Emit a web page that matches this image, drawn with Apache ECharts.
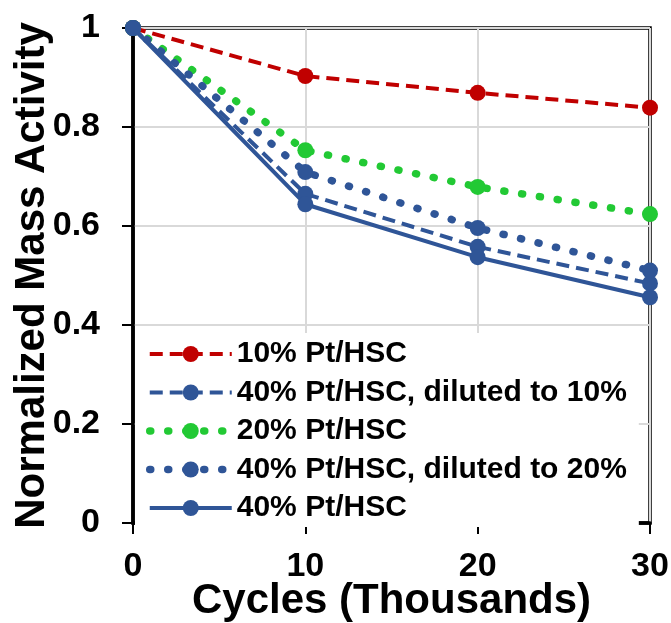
<!DOCTYPE html>
<html>
<head>
<meta charset="utf-8">
<script src="https://cdn.jsdelivr.net/npm/echarts@6/dist/echarts.min.js"></script>
<style>
  html, body { margin: 0; padding: 0; background: #fff; }
  #chart { width: 671px; height: 623px; }
</style>
</head>
<body>
<div id="chart"></div>
<script>
// x 轴：循环次数（千次）
const cycles = [0, 10, 20, 30]
const yTicks = [0, 0.2, 0.4, 0.6, 0.8, 1]

// 各条曲线的数据
const names = [
  '10% Pt/HSC',
  '40% Pt/HSC, diluted to 10%',
  '20% Pt/HSC',
  '40% Pt/HSC, diluted to 20%',
  '40% Pt/HSC'
]
const pt10 = [1, 0.903, 0.869, 0.839]
const pt40dil10 = [1, 0.665, 0.558, 0.484]
const pt20 = [1, 0.753, 0.679, 0.624]
const pt40dil20 = [1, 0.709, 0.596, 0.510]
const pt40 = [1, 0.644, 0.537, 0.456]

const FONT = "'Liberation Sans', Arial, sans-serif"
const RED = '#C00000'
const BLUE = '#2F5597'
const GREEN = '#22C934'

const chart = echarts.init(document.getElementById('chart'))

const toPoints = (vals) => vals.map((v, i) => [cycles[i], v])

// 线型：虚线、点线、实线
const dashed = (color) => ({ color, width: 4, type: [13, 7] })
const dotted = (color) => ({ color, width: 7.5, type: [1, 17], cap: 'round' })
const solid = (color) => ({ color, width: 4, type: 'solid' })

const seriesDefs = [
  { data: pt10, color: RED, line: dashed(RED) },
  { data: pt40dil10, color: BLUE, line: dashed(BLUE) },
  { data: pt20, color: GREEN, line: dotted(GREEN) },
  { data: pt40dil20, color: BLUE, line: dotted(BLUE) },
  { data: pt40, color: BLUE, line: solid(BLUE) }
]

const option = {
  animation: false,
  backgroundColor: '#fff',
  grid: {
    left: 133,
    right: 21,
    top: 28,
    bottom: 100,
    outerBoundsMode: 'none',
    containLabel: false,
    show: true,
    borderColor: '#000',
    borderWidth: 3.5
  },
  legend: {
    left: 135,
    top: 333,
    orient: 'vertical',
    backgroundColor: '#fff',
    padding: [6, 12, 4, 11],
    itemWidth: 82,
    itemHeight: 20,
    itemGap: 8.5,
    // 图例里的线宽跟随系列
    lineStyle: { width: 'inherit', cap: 'inherit' },
    textStyle: {
      fontFamily: FONT,
      fontWeight: 'bold',
      fontSize: 30,
      lineHeight: 30,
      color: '#000'
    },
    data: names
  },
  xAxis: {
    type: 'value',
    min: 0,
    max: 30,
    interval: 10,
    name: 'Cycles (Thousands)',
    nameLocation: 'middle',
    nameGap: 57,
    nameMoveOverlap: false,
    nameTextStyle: { fontFamily: FONT, fontWeight: 'bold', fontSize: 42, lineHeight: 42, color: '#000' },
    axisLine: { show: true, onZero: false, lineStyle: { color: '#000', width: 3.5 } },
    axisTick: { show: true, length: 11, lineStyle: { color: '#000', width: 2 } },
    axisLabel: { margin: 27, fontFamily: FONT, fontWeight: 'bold', fontSize: 34, color: '#000' },
    splitLine: { show: true, lineStyle: { color: '#D9D9D9', width: 2 } }
  },
  yAxis: {
    type: 'value',
    min: yTicks[0],
    max: yTicks[yTicks.length - 1],
    interval: 0.2,
    name: 'Normalized Mass Activity',
    nameLocation: 'middle',
    nameGap: 80,
    nameMoveOverlap: false,
    nameTextStyle: { fontFamily: FONT, fontWeight: 'bold', fontSize: 42, lineHeight: 42, color: '#000' },
    axisLine: { show: true, lineStyle: { color: '#000', width: 3.5 } },
    axisTick: { show: true, length: 11, lineStyle: { color: '#000', width: 2 } },
    axisLabel: { margin: 33, fontFamily: FONT, fontWeight: 'bold', fontSize: 34, color: '#000' },
    splitLine: { show: true, lineStyle: { color: '#D9D9D9', width: 2 } }
  },
  series: seriesDefs.map((s, i) => ({
    name: names[i],
    type: 'line',
    data: toPoints(s.data),
    symbol: 'circle',
    symbolSize: 16,
    itemStyle: { color: s.color },
    lineStyle: s.line,
    z: 2 + i
  }))
}

chart.setOption(option)
</script>
</body>
</html>
